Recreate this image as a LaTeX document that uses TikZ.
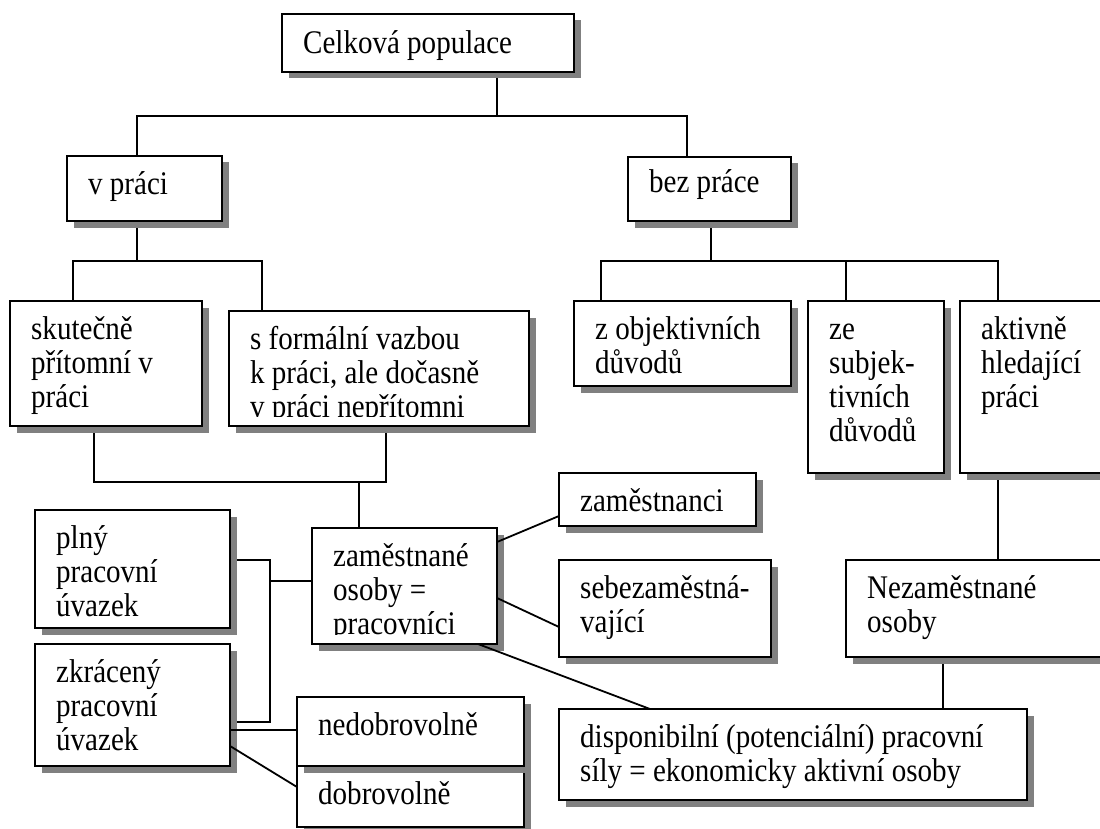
\documentclass[tikz,border=0pt]{standalone}
\usepackage{fontspec}
\setmainfont{Liberation Serif}[FakeStretch=0.88]
\usetikzlibrary{shadows,backgrounds,calc}
\newcommand{\BoxNode}[7][38]{%
  \node[box,minimum width=#5pt,minimum height=#6pt] (#2) at (#3,#4) {};
  \node[txt] (#2-t) at ([xshift=21pt,yshift=-#1pt]#2.north west) {\begin{tabular}[t]{@{}l@{}}#7\end{tabular}};}
\newcommand{\BoxNodeClip}[7][38]{%
  \node[box,minimum width=#5pt,minimum height=#6pt] (#2) at (#3,#4) {};
  \begin{scope}
    \clip (#2.north west) rectangle ([yshift=10pt]#2.south east);
    \node[txt] (#2-t) at ([xshift=21pt,yshift=-#1pt]#2.north west) {\begin{tabular}[t]{@{}l@{}}#7\end{tabular}};
  \end{scope}}
\begin{document}
\begin{tikzpicture}[x=1pt,y=-1pt,
  box/.style={draw,line width=1.8pt,fill=white,inner sep=0pt,outer sep=0pt,anchor=north west,
    drop shadow={shadow xshift=6.5pt,shadow yshift=-6.5pt,fill=black!50,opacity=1}},
  txt/.style={anchor=base west,inner sep=0pt,font=\fontsize{33}{34}\selectfont},
  conn/.style={line width=1.8pt}]
\useasboundingbox (0,0) rectangle (1100,829);

% boxes
\BoxNode[40]{cel}{282}{14}{292}{58}{Celková populace}
\BoxNode[39]{vpr}{67}{156}{155}{65}{v práci}
\BoxNode[36]{bez}{628}{157}{163}{64}{bez práce}
\BoxNode{sku}{10}{301}{192}{125}{skutečně\\přítomní v\\práci}
\BoxNodeClip{sfo}{229}{311}{300}{115}{s formální vazbou\\k práci, ale dočasně\\v práci nepřítomni}
\BoxNode{obj}{574}{301}{217}{85}{z objektivních\\důvodů}
\BoxNode{sub}{808}{301}{136}{172}{ze\\subjek-\\tivních\\důvodů}
\BoxNode{akt}{960}{301}{160}{172}{aktivně\\hledající\\práci}
\BoxNode{zci}{559}{473}{197}{53}{zaměstnanci}
\BoxNode{seb}{559}{560}{212}{97}{sebezaměstná-\\vající}
\BoxNode{nez}{846}{560}{274}{97}{Nezaměstnané\\osoby}
\BoxNode{dis}{559}{709}{468}{91}{disponibilní (potenciální) pracovní\\síly = ekonomicky aktivní osoby}
\BoxNode{pln}{35}{510}{195}{118}{plný\\pracovní\\úvazek}
\BoxNode{zkr}{35}{644}{195}{122}{zkrácený\\pracovní\\úvazek}
\BoxNodeClip{zam}{312}{528}{185}{116}{zaměstnané\\osoby =\\pracovníci}
\BoxNode{dob}{297}{766}{227}{61}{dobrovolně}
\BoxNode{ned}{297}{697}{227}{69}{nedobrovolně}

% tree connectors (behind the boxes)
\begin{pgfonlayer}{background}
  \draw[conn] ([xshift=215pt]cel.south west) -- ++(0,44) coordinate (j1);
  \draw[conn] ([xshift=70pt]vpr.north west) |- (j1) -| ([xshift=59pt]bez.north west);

  \draw[conn] ([xshift=70pt]vpr.south west) -- ++(0,40) coordinate (j2);
  \draw[conn] ([xshift=63pt]sku.north west) |- (j2) -| ([xshift=33pt]sfo.north west);

  \draw[conn] ([xshift=83pt]bez.south west) -- ++(0,40) coordinate (j3);
  \draw[conn] ([xshift=27pt]obj.north west) |- (j3) -| ([xshift=38pt]akt.north west);
  \coordinate (s1) at ([xshift=38pt]sub.north west);
  \draw[conn] (s1) -- (s1 |- j3);

  \coordinate (a1) at ([xshift=84pt]sku.south west);
  \coordinate (a2) at ([xshift=157pt]sfo.south west);
  \coordinate (a3) at ([xshift=47pt]zam.north west);
  \draw[conn] (a1) -- ++(0,56) coordinate (j4) -- (j4 -| a2) -- (a2);
  \draw[conn] (a3) -- (a3 |- j4);

  \coordinate (b1) at ([yshift=-50pt]pln.north east);
  \coordinate (b2) at ([yshift=-78pt]zkr.north east);
  \coordinate (b3) at ([yshift=-53pt]zam.north west);
  \draw[conn] (b1) -- ++(40,0) coordinate (j5) -- (j5 |- b2) -- (b2);
  \draw[conn] (b3) -- (b3 -| j5);

  \draw[conn] ([xshift=38pt]akt.south west) -- ([xshift=152pt]nez.north west);
  \draw[conn] ([xshift=97pt]nez.south west) -- ([xshift=384pt]dis.north west);
\end{pgfonlayer}

% direct connectors
\draw[conn] ([yshift=-86pt]zkr.north east) -- ([yshift=-33pt]ned.north west);
\draw[conn] ([yshift=-102pt]zkr.north east) -- ([yshift=-21pt]dob.north west);
\draw[conn] ([yshift=-14pt]zam.north east) -- ([yshift=-43pt]zci.north west);
\draw[conn] ([yshift=-70pt]zam.north east) -- ([yshift=-67pt]seb.north west);
\draw[conn] ([xshift=166pt]zam.south west) -- ([xshift=91pt]dis.north west);
\end{tikzpicture}
\end{document}
